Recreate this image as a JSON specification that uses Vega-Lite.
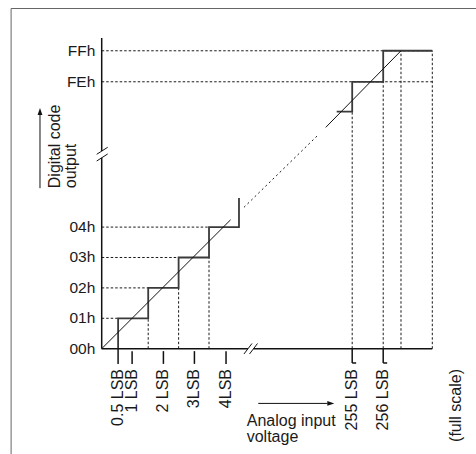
{
  "$schema": "https://vega.github.io/schema/vega-lite/v6.json",
  "width": 476,
  "height": 454,
  "autosize": {"type": "none"},
  "padding": 0,
  "background": "white",
  "config": {"view": {"stroke": null}},
  "datasets": {
    "segs": [
      {"k": "frame", "x": -2.98, "y": -3.6, "x2": -2.98, "y2": 11.19},
      {"k": "frame", "x": -2.98, "y": 11.19, "x2": 12.4, "y2": 11.19},
      {"k": "guide", "x": 0, "y": 1, "x2": 0.54, "y2": 1},
      {"k": "guide", "x": 0, "y": 2, "x2": 1.53, "y2": 2},
      {"k": "guide", "x": 0, "y": 3, "x2": 2.53, "y2": 3},
      {"k": "guide", "x": 0, "y": 4, "x2": 3.53, "y2": 4},
      {"k": "guide", "x": 0, "y": 8.78, "x2": 10.875, "y2": 8.78},
      {"k": "guide", "x": 0, "y": 9.8, "x2": 10.875, "y2": 9.8},
      {"k": "guide", "x": 1.53, "y": 0, "x2": 1.53, "y2": 1},
      {"k": "guide", "x": 2.53, "y": 0, "x2": 2.53, "y2": 2},
      {"k": "guide", "x": 3.53, "y": 0, "x2": 3.53, "y2": 3},
      {"k": "guide", "x": 8.24, "y": 0, "x2": 8.24, "y2": 7.8},
      {"k": "guide", "x": 9.26, "y": 0, "x2": 9.26, "y2": 8.78},
      {"k": "guide", "x": 9.845, "y": 0, "x2": 9.845, "y2": 9.8},
      {"k": "guide", "x": 10.875, "y": 0, "x2": 10.875, "y2": 9.8},
      {"k": "diag", "x": 0, "y": 0, "x2": 4.24, "y2": 4.24},
      {"k": "diag", "x": 7.37, "y": 7.28, "x2": 9.845, "y2": 9.8},
      {"k": "dot", "x": 4.68, "y": 4.65, "x2": 7.15, "y2": 7.06},
      {"k": "axis", "x": 0, "y": 0, "x2": 0, "y2": 6.28},
      {"k": "axis", "x": 0, "y": 6.5, "x2": 0, "y2": 10.22},
      {"k": "axis", "x": 0, "y": 0, "x2": 4.81, "y2": 0},
      {"k": "axis", "x": 4.99, "y": 0, "x2": 10.875, "y2": 0},
      {"k": "tick", "x": 1.0, "y": -0.08, "x2": 1.0, "y2": -0.5},
      {"k": "tick", "x": 2.03, "y": -0.08, "x2": 2.03, "y2": -0.5},
      {"k": "tick", "x": 3.05, "y": -0.08, "x2": 3.05, "y2": -0.5},
      {"k": "tick", "x": 4.09, "y": -0.08, "x2": 4.09, "y2": -0.5},
      {"k": "tick", "x": 8.24, "y": 0, "x2": 8.24, "y2": -0.47},
      {"k": "tick", "x": 9.26, "y": 0, "x2": 9.26, "y2": -0.47},
      {"k": "tick", "x": 8.24, "y": -0.47, "x2": 8.37, "y2": -0.47},
      {"k": "tick", "x": 9.26, "y": -0.47, "x2": 9.39, "y2": -0.47},
      {"k": "brk", "x": -0.164, "y": 6.395, "x2": 0.197, "y2": 6.625},
      {"k": "brk", "x": -0.164, "y": 6.174, "x2": 0.197, "y2": 6.405},
      {"k": "brk", "x": 4.68, "y": -0.174, "x2": 4.944, "y2": 0.171},
      {"k": "brk", "x": 4.862, "y": -0.174, "x2": 5.125, "y2": 0.171},
      {"k": "arrow", "x": -2.03, "y": 5.28, "x2": -2.03, "y2": 7.75},
      {"k": "arrow", "x": 5.15, "y": -1.8, "x2": 7.43, "y2": -1.8}
    ],
    "steps": [
      {"seg": "lo", "i": 0, "x": 0.54, "y": -0.5},
      {"seg": "lo", "i": 1, "x": 0.54, "y": 1},
      {"seg": "lo", "i": 2, "x": 1.53, "y": 2},
      {"seg": "lo", "i": 3, "x": 2.53, "y": 3},
      {"seg": "lo", "i": 4, "x": 3.53, "y": 4},
      {"seg": "lo", "i": 5, "x": 4.516, "y": 4.96},
      {"seg": "hi", "i": 0, "x": 7.73, "y": 7.8},
      {"seg": "hi", "i": 1, "x": 8.24, "y": 8.78},
      {"seg": "hi", "i": 2, "x": 9.26, "y": 9.8},
      {"seg": "hi", "i": 3, "x": 10.875, "y": 9.8}
    ],
    "heads": [
      {"dir": "up", "x": -2.03, "y": 7.786},
      {"dir": "right", "x": 7.52, "y": -1.8}
    ],
    "labels": [
      {"g": "y", "t": "FFh", "x": -0.21, "y": 9.8},
      {"g": "y", "t": "FEh", "x": -0.21, "y": 8.78},
      {"g": "y", "t": "04h", "x": -0.21, "y": 4},
      {"g": "y", "t": "03h", "x": -0.21, "y": 3},
      {"g": "y", "t": "02h", "x": -0.21, "y": 2},
      {"g": "y", "t": "01h", "x": -0.21, "y": 1},
      {"g": "y", "t": "00h", "x": -0.21, "y": 0},
      {"g": "x", "t": "0.5 LSB", "x": 0.54, "y": -0.668},
      {"g": "x", "t": "1 LSB", "x": 1.0, "y": -0.668},
      {"g": "x", "t": "2 LSB", "x": 2.03, "y": -0.668},
      {"g": "x", "t": "3LSB", "x": 3.05, "y": -0.668},
      {"g": "x", "t": "4LSB", "x": 4.09, "y": -0.668},
      {"g": "x", "t": "255 LSB", "x": 8.24, "y": -0.668},
      {"g": "x", "t": "256 LSB", "x": 9.26, "y": -0.668},
      {"g": "x", "t": "(full scale)", "x": 11.67, "y": -0.668}
    ],
    "titles": [
      {"g": "yt", "t": ["Digital code", "output"], "x": -1.536, "y": 5.28},
      {"g": "xt", "t": ["Analog input", "voltage"], "x": 4.77, "y": -2.54}
    ]
  },
  "encoding": {
    "x": {"field": "x", "type": "quantitative", "axis": null, "scale": {"domain": [-3.3454, 12.3125], "nice": false, "zero": false}},
    "y": {"field": "y", "type": "quantitative", "axis": null, "scale": {"domain": [-3.4638, 11.47], "nice": false, "zero": false}}
  },
  "layer": [
    {
      "data": {"name": "segs"},
      "transform": [{"filter": "datum.k === 'frame'"}],
      "mark": {"type": "rule", "color": "#666666", "strokeWidth": 1},
      "encoding": {"x2": {"field": "x2"}, "y2": {"field": "y2"}}
    },
    {
      "data": {"name": "segs"},
      "transform": [{"filter": "datum.k === 'guide'"}],
      "mark": {"type": "rule", "color": "#1a1a1a", "strokeWidth": 1, "strokeDash": [2.5, 2]},
      "encoding": {"x2": {"field": "x2"}, "y2": {"field": "y2"}}
    },
    {
      "data": {"name": "segs"},
      "transform": [{"filter": "datum.k === 'dot'"}],
      "mark": {"type": "rule", "color": "#1a1a1a", "strokeWidth": 1, "strokeDash": [2, 3]},
      "encoding": {"x2": {"field": "x2"}, "y2": {"field": "y2"}}
    },
    {
      "data": {"name": "steps"},
      "mark": {"type": "line", "interpolate": "step-after", "color": "#3a3a3a", "strokeWidth": 1.8},
      "encoding": {"detail": {"field": "seg"}, "order": {"field": "i", "type": "quantitative"}}
    },
    {
      "data": {"name": "segs"},
      "transform": [{"filter": "datum.k === 'diag'"}],
      "mark": {"type": "rule", "color": "#111111", "strokeWidth": 1},
      "encoding": {"x2": {"field": "x2"}, "y2": {"field": "y2"}}
    },
    {
      "data": {"name": "segs"},
      "transform": [{"filter": "datum.k === 'axis' || datum.k === 'tick'"}],
      "mark": {"type": "rule", "color": "#111111", "strokeWidth": 1.5},
      "encoding": {"x2": {"field": "x2"}, "y2": {"field": "y2"}}
    },
    {
      "data": {"name": "segs"},
      "transform": [{"filter": "datum.k === 'brk' || datum.k === 'arrow'"}],
      "mark": {"type": "rule", "color": "#111111", "strokeWidth": 1},
      "encoding": {"x2": {"field": "x2"}, "y2": {"field": "y2"}}
    },
    {
      "data": {"name": "heads"},
      "mark": {"type": "point", "filled": true, "color": "#111111", "size": 64, "opacity": 1},
      "encoding": {
        "shape": {"field": "dir", "type": "nominal", "legend": null,
          "scale": {"domain": ["up", "right"], "range": ["M0,-1L0.6,0.75L-0.6,0.75Z", "M1,0L-0.75,-0.6L-0.75,0.6Z"]}}
      }
    },
    {
      "data": {"name": "labels"},
      "transform": [{"filter": "datum.g === 'y'"}],
      "mark": {"type": "text", "align": "right", "baseline": "middle", "font": "Liberation Sans", "fontSize": 15.5, "color": "#1a1a1a"},
      "encoding": {"text": {"field": "t"}}
    },
    {
      "data": {"name": "labels"},
      "transform": [{"filter": "datum.g === 'x'"}],
      "mark": {"type": "text", "angle": 270, "align": "right", "baseline": "middle", "font": "Liberation Sans", "fontSize": 16, "color": "#1a1a1a"},
      "encoding": {"text": {"field": "t"}}
    },
    {
      "data": {"name": "titles"},
      "transform": [{"filter": "datum.g === 'yt'"}],
      "mark": {"type": "text", "angle": 270, "align": "left", "baseline": "middle", "lineHeight": 16, "font": "Liberation Sans", "fontSize": 16, "color": "#1a1a1a"},
      "encoding": {"text": {"field": "t"}}
    },
    {
      "data": {"name": "titles"},
      "transform": [{"filter": "datum.g === 'xt'"}],
      "mark": {"type": "text", "align": "left", "baseline": "alphabetic", "lineHeight": 16, "font": "Liberation Sans", "fontSize": 16, "color": "#1a1a1a"},
      "encoding": {"text": {"field": "t"}}
    }
  ]
}
